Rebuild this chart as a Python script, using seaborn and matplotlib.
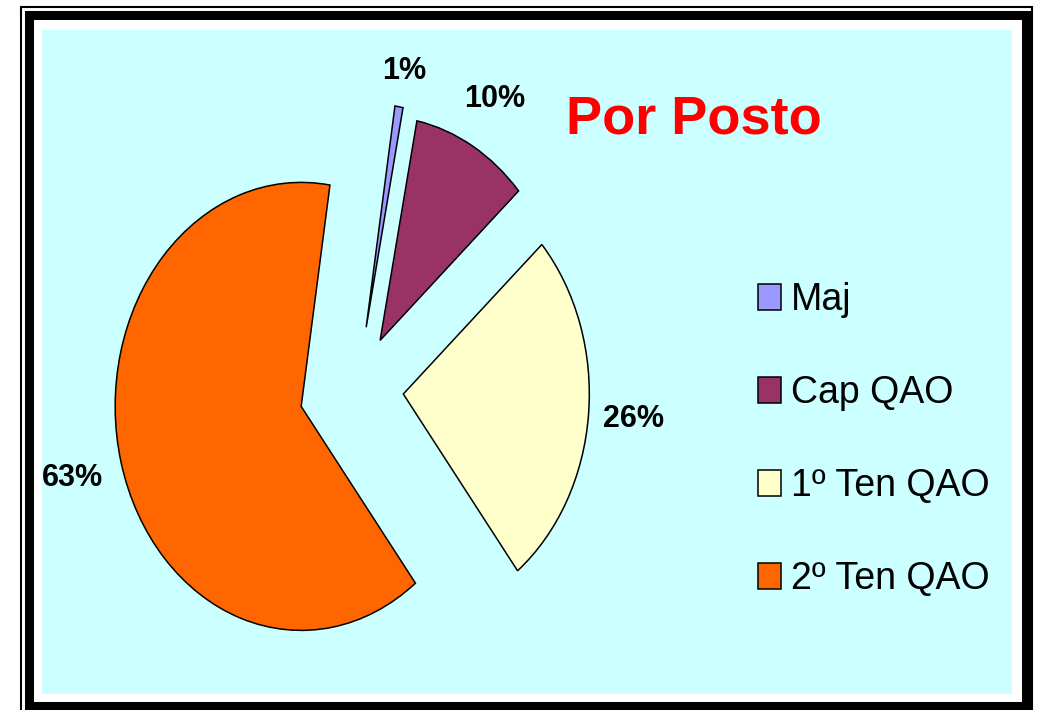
import matplotlib
matplotlib.use("Agg")
import numpy as np
import matplotlib.pyplot as plt
import matplotlib.patches as mpatches
from matplotlib import font_manager
import seaborn as sns

# data (share of each rank, in %)
categories = ["Maj", "Cap QAO", "1º Ten QAO", "2º Ten QAO"]
shares = [0.7, 10.2, 26.1, 63.0]
colors = ["#9999FF", "#993366", "#FFFFCC", "#FF6600"]
explode = [0.28, 0.25, 0.25, 0.31]
label_dist = [1.16, 1.24, 1.24, 1.27]
title = "Por Posto"

sns.set_theme(style="white")
plt.rcParams["font.family"] = ["Liberation Sans", "DejaVu Sans"]
plt.rcParams["text.color"] = "black"

W, H = 1039, 710
fig = plt.figure(figsize=(W / 100, H / 100), dpi=100)
fig.patch.set_facecolor("white")

def fx(x):
    return x / W

def fy(y):
    return 1 - y / H

# plot area (cyan box) in pixels: (42,30) - (1012,694)
ax = fig.add_axes([fx(42), fy(694), (1012 - 42) / W, (694 - 30) / H])

wedges, texts, autotexts = ax.pie(
    shares, colors=colors, explode=explode, startangle=81.1,
    counterclock=False, autopct=lambda p: f"{p:.0f}%", pctdistance=1.24,
    wedgeprops=dict(edgecolor="black", linewidth=1.1),
    textprops=dict(fontsize=22, fontweight="bold", color="black"),
)

# labels sit outside the slices, each at its own distance
for w, t, d in zip(wedges, autotexts, label_dist):
    mid = np.deg2rad((w.theta1 + w.theta2) / 2)
    cx, cy = w.center
    t.set_position((cx + d * w.r * np.cos(mid), cy + d * w.r * np.sin(mid)))

# pie centre at pixel (357,389); radius 186 px across, 224 px tall
ax.set_aspect("auto")
ax.set_xlim((42 - 357) / 186, (1012 - 357) / 186)
ax.set_ylim((389 - 694) / 224, (389 - 30) / 224)
ax.set_frame_on(True)
ax.set_facecolor("#CCFFFF")
for s in ax.spines.values():
    s.set_visible(False)

leg = ax.legend(
    wedges, categories, loc="upper left",
    bbox_to_anchor=(fx(758), fy(282)), bbox_transform=fig.transFigure,
    frameon=False, fontsize=27, borderpad=0, borderaxespad=0,
    handlelength=0.6, handleheight=0.72, handletextpad=0.27,
    labelspacing=1.52,
)
for h in leg.legend_handles:
    h.set_edgecolor("black")
    h.set_linewidth(1.1)
for t in leg.get_texts():
    t.set_color("black")

names = {f.name for f in font_manager.fontManager.ttflist}
if "Liberation Sans Narrow" in names:
    fig.text(fx(694), fy(134), title, color="red", fontsize=46,
             fontweight="bold", family=["Liberation Sans Narrow"],
             ha="center", va="baseline")
else:
    fig.text(fx(694), fy(134), title, color="red", fontsize=39,
             fontweight="bold", ha="center", va="baseline")

# double border around the chart
fig.add_artist(mpatches.Rectangle(
    (fx(28.5), fy(706)), (1025.5 - 28.5) / W, (706 - 14.5) / H,
    transform=fig.transFigure, fill=False, edgecolor="black", linewidth=6.5))
fig.add_artist(mpatches.Rectangle(
    (fx(21), fy(714)), (1031.5 - 21) / W, (714 - 7) / H,
    transform=fig.transFigure, fill=False, edgecolor="black", linewidth=1.5))

fig.savefig("out.png", dpi=100)
